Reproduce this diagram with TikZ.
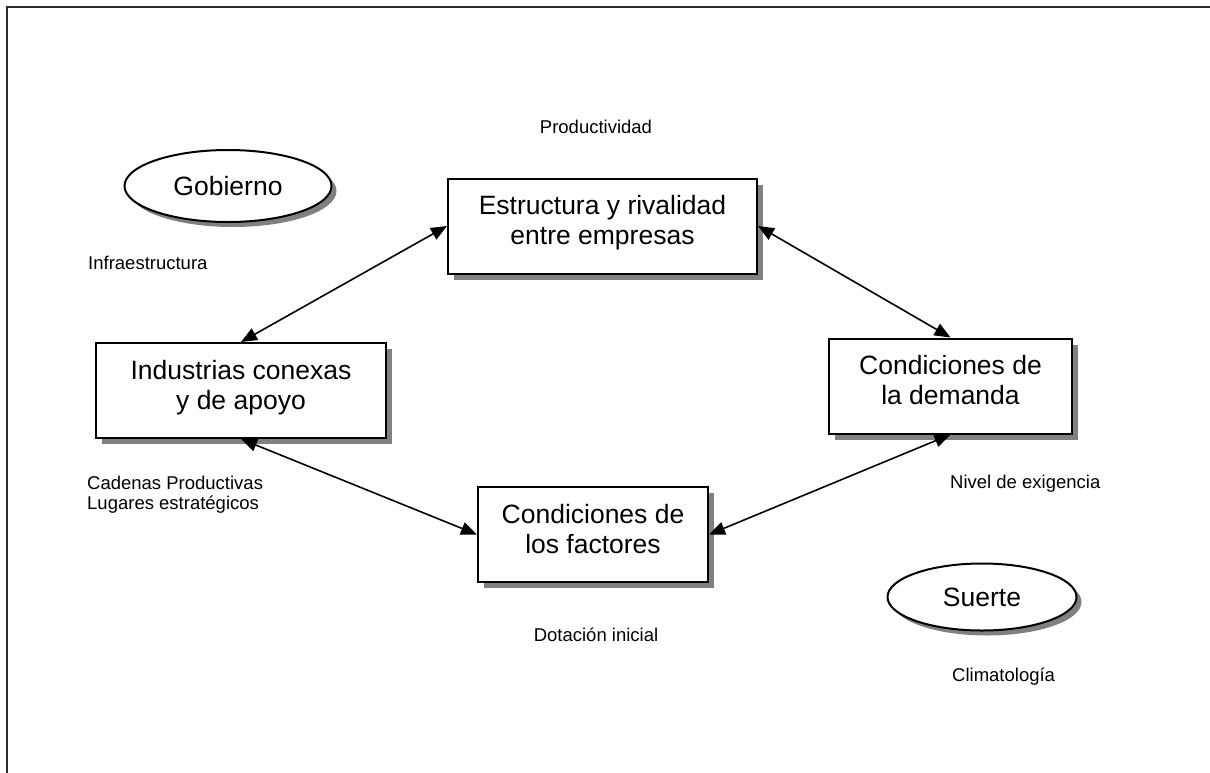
\documentclass[tikz,border=0pt]{standalone}
\usepackage{fontspec}
\setmainfont{Liberation Sans}
\usetikzlibrary{shapes.geometric,shadows,arrows.meta}
\definecolor{shadowgray}{RGB}{128,128,128}
\definecolor{framegray}{RGB}{45,45,45}

\begin{document}
\begin{tikzpicture}[x=1pt,y=-1pt,
        caja/.style={draw,line width=2pt,fill=white,minimum height=95pt,align=center,
            text depth=12pt,font=\fontsize{26.5}{30}\selectfont,
            drop shadow={shadow xshift=6pt,shadow yshift=-6pt,fill=shadowgray,opacity=1}},
        ovalo/.style={draw,ellipse,line width=2pt,fill=white,inner sep=0pt,
            font=\fontsize{26.5}{30}\selectfont,
            drop shadow={shadow xshift=5pt,shadow yshift=-5pt,fill=shadowgray,opacity=1}},
        etiqueta/.style={inner sep=0pt,font=\fontsize{18.5}{20}\selectfont},
        flecha/.style={{Triangle[length=16pt,width=13pt]}-{Triangle[length=16pt,width=13pt]},line width=1.6pt}]
        \useasboundingbox (0,0) rectangle (1210,772);
        \draw[framegray,line width=2.5pt] (7,7) rectangle (1240,800);
        % diamante
        \node[caja,minimum width=309pt] (estr) at (602.5,226) {Estructura y rivalidad\\entre empresas};
        \node[caja,minimum width=290pt] (ind) at (241,390.5) {Industrias conexas\\y de apoyo};
        \node[caja,minimum width=243pt] (dem) at (950.5,386) {Condiciones de\\la demanda};
        \node[caja,minimum width=230pt] (fac) at (593,534.5) {Condiciones de\\los factores};
        % actores externos
        \node[ovalo,minimum width=207pt,minimum height=72pt] (gob) at (228,186) {Gobierno};
        \node[ovalo,minimum width=189pt,minimum height=67pt] (suerte) at (982,597) {Suerte};
        % etiquetas
        \node[etiqueta] (prod) at (596,127) {Productividad};
        \node[etiqueta,anchor=west] (infra) at (88,263) {Infraestructura};
        \node[etiqueta,anchor=north west,align=left] (cad) at (87,476) {Cadenas Productivas\\Lugares estratégicos};
        \node[etiqueta,anchor=west] (nivel) at (950,484) {Nivel de exigencia};
        \node[etiqueta] (dot) at (596,635) {Dotación inicial};
        \node[etiqueta,anchor=west] (clima) at (952,677) {Climatología};
        % flechas
        \draw[flecha] (estr.west) -- (ind.north);
        \draw[flecha] (estr.east) -- (dem.north);
        \draw[flecha] (ind.south) -- (fac.west);
        \draw[flecha] (dem.south) -- (fac.east);
\end{tikzpicture}
\end{document}
